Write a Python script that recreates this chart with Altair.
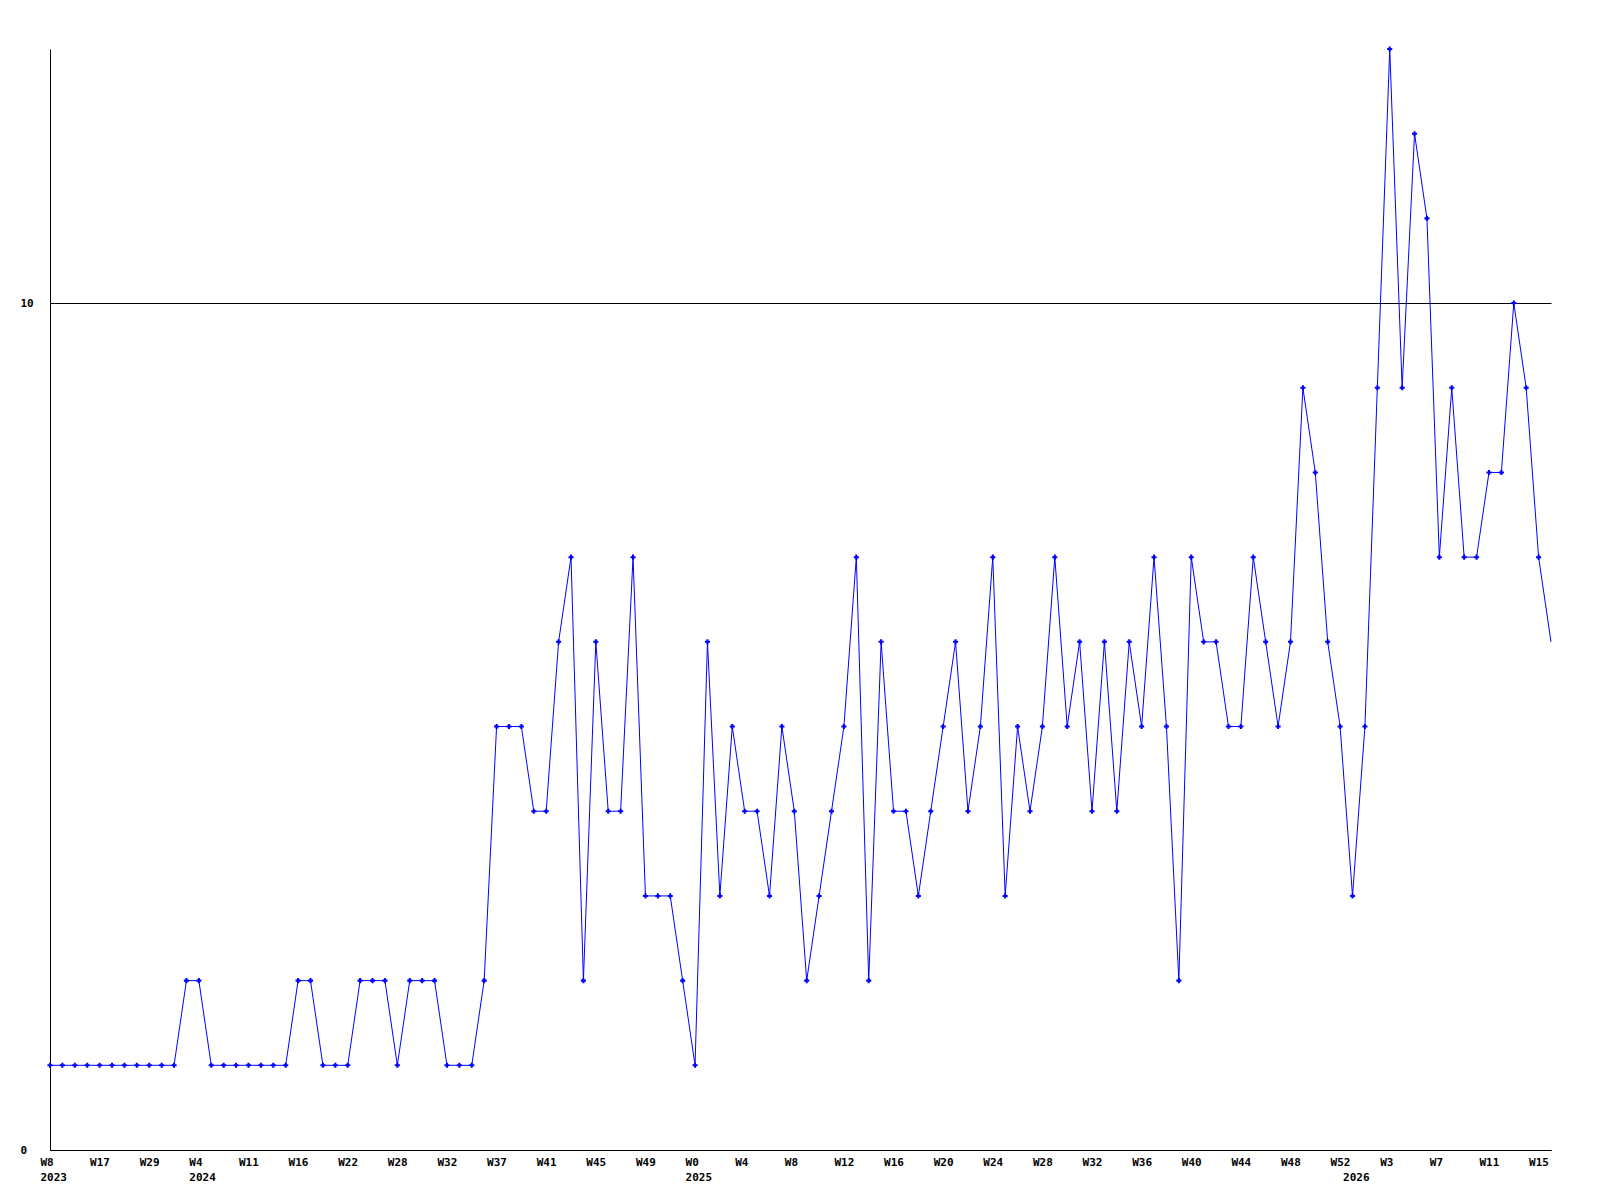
import altair as alt
import pandas as pd

# weekly counts, one entry per plotted week (left to right)
values = [
    1, 1, 1, 1, 1, 1, 1, 1, 1, 1, 1, 2, 2, 1, 1, 1, 1, 1, 1, 1,
    2, 2, 1, 1, 1, 2, 2, 2, 1, 2, 2, 2, 1, 1, 1, 2, 5, 5, 5, 4,
    4, 6, 7, 2, 6, 4, 4, 7, 3, 3, 3, 2, 1, 6, 3, 5, 4, 4, 3, 5,
    4, 2, 3, 4, 5, 7, 2, 6, 4, 4, 3, 4, 5, 6, 4, 5, 7, 3, 5, 4,
    5, 7, 5, 6, 4, 6, 4, 6, 5, 7, 5, 2, 7, 6, 6, 5, 5, 7, 6, 5,
    6, 9, 8, 6, 5, 3, 5, 9, 13, 9, 12, 11, 7, 9, 7, 7, 8, 8, 10, 9,
    7, 6,
]

# week tick labels, one every 4 weeks (index 0, 4, 8, ...)
tick_weeks = [
    "W8", "W17", "W29", "W4", "W11", "W16", "W22", "W28", "W32", "W37",
    "W41", "W45", "W49", "W0", "W4", "W8", "W12", "W16", "W20", "W24",
    "W28", "W32", "W36", "W40", "W44", "W48", "W52", "W3", "W7", "W11",
    "W15",
]
# year labels: week index -> year
year_index = [0, 12, 52, 105]
year_text = ["2023", "2024", "2025", "2026"]

y_ticks = [0, 10]

df = pd.DataFrame({"i": list(range(len(values))), "v": values})

# build per-index label table for the axis
n = len(values)
week_at = {k * 4: w for k, w in enumerate(tick_weeks)}
year_at = dict(zip(year_index, year_text))
tick_values = sorted(set(week_at) | set(year_at))
items = []
for idx in range(n):
    w = week_at.get(idx)
    yr = year_at.get(idx)
    if yr is not None:
        items.append("['%s','%s']" % (w if w else "\u00a0", yr))
    elif w is not None:
        items.append("'%s'" % w)
    else:
        items.append("''")
label_expr = "[" + ",".join(items) + "][round(datum.value)]"

FONT = "DejaVu Sans Mono"
BLUE = "#0000ff"

x_enc = alt.X(
    "i:Q",
    scale=alt.Scale(domain=[0, n - 1], nice=False, zero=False),
    axis=alt.Axis(
        values=tick_values,
        labelExpr=label_expr,
        title=None,
        grid=False,
        ticks=False,
        tickSize=0,
        labelAlign="left",
        labelBaseline="top",
        labelOffset=-10,
        labelPadding=6,
        labelFlush=False,
        labelOverlap=False,
        labelBound=False,
        labelLineHeight=15,
        labelFont=FONT,
        labelFontSize=11,
        labelFontWeight="bold",
        labelColor="black",
        domainColor="black",
        domainWidth=1,
    ),
)
y_enc = alt.Y(
    "v:Q",
    scale=alt.Scale(domain=[0, 13], nice=False, zero=True),
    axis=alt.Axis(
        values=y_ticks,
        format="d",
        title=None,
        grid=True,
        gridColor="black",
        gridOpacity=1,
        gridWidth=1,
        ticks=False,
        tickSize=0,
        labelAlign="left",
        labelBaseline="middle",
        labelPadding=30,
        labelFlush=False,
        labelOverlap=False,
        labelFont=FONT,
        labelFontSize=11,
        labelFontWeight="bold",
        labelColor="black",
        domainColor="black",
        domainWidth=1,
    ),
)

line = alt.Chart(df).mark_line(color=BLUE, strokeWidth=1).encode(x=x_enc, y=y_enc)
pts = (
    alt.Chart(df)
    .transform_filter(alt.datum.i < n - 1)
    .mark_point(shape="cross", filled=True, color=BLUE, size=26, opacity=1)
    .encode(x="i:Q", y="v:Q")
)

chart = (
    alt.layer(line, pts)
    .properties(
        width=1501,
        height=1101,
        autosize=alt.AutoSizeParams(type="none"),
        padding={"left": 42, "top": 41, "right": 41, "bottom": 42},
        background="white",
    )
    .configure_view(stroke=None)
)

chart.save("out.html", embed_options={"renderer": "svg", "actions": False})
